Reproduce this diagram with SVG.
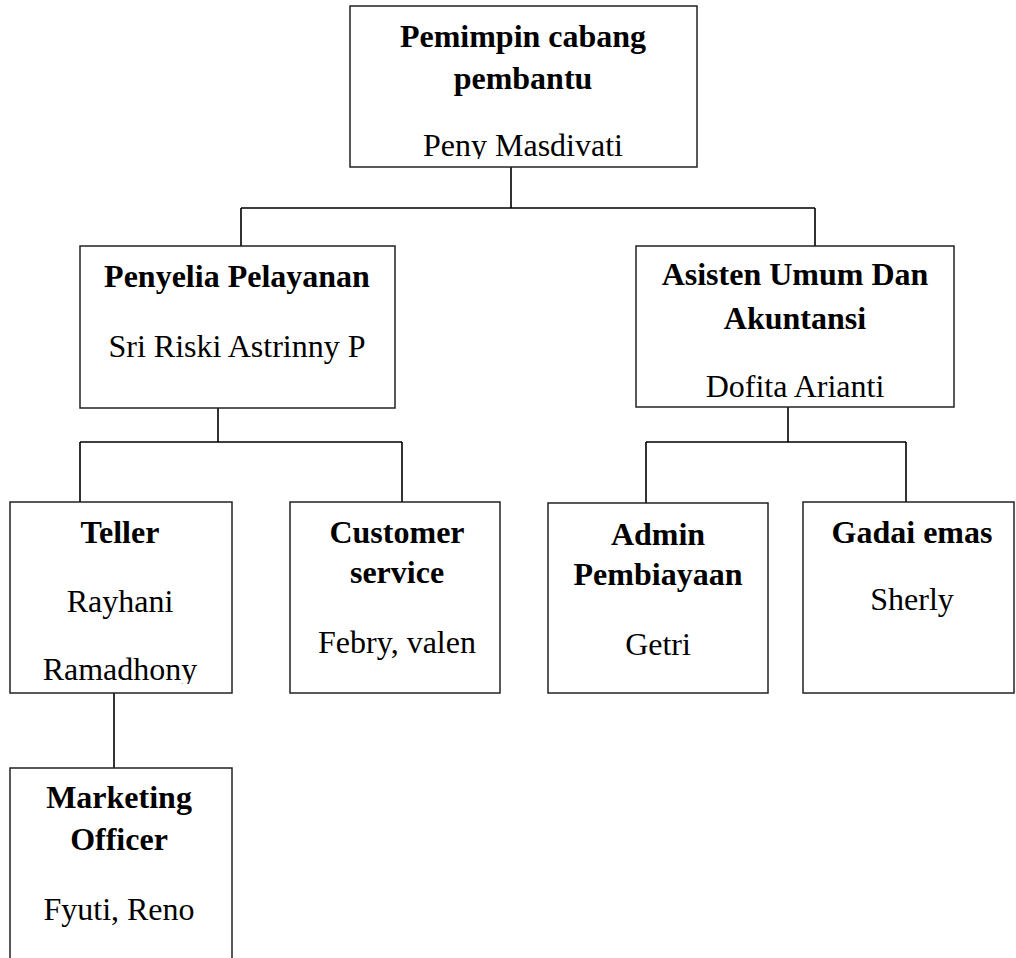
<svg xmlns="http://www.w3.org/2000/svg" width="1016" height="958" viewBox="0 0 1016 958">
<style>
.box{fill:#fff;stroke:#222;stroke-width:1.5}
.con{fill:none;stroke:#000;stroke-width:1.6}
text{font-family:"Liberation Serif","Times New Roman",serif;font-size:32px;fill:#000;text-anchor:middle}
.t{font-weight:bold}
</style>
<defs>
<clipPath id="clipTop"><rect x="350" y="6" width="347" height="153"/></clipPath>
<clipPath id="clipTeller"><rect x="10" y="502" width="222" height="182"/></clipPath>
</defs>
<rect width="1016" height="958" fill="#fff"/>
<g id="connectors">
<path class="con" d="M511 167V208M241 208H815M241 208V246M815 208V246"/>
<path class="con" d="M218 408V442M80 442H402M80 442V502M402 442V502"/>
<path class="con" d="M788 407V442M646 442H906M646 442V503M906 442V502"/>
<path class="con" d="M114 693V768"/>
</g>
<g id="pemimpin">
<rect class="box" x="350" y="6" width="347" height="161"/>
<g clip-path="url(#clipTop)">
<text class="t" x="523" y="47">Pemimpin cabang</text>
<text class="t" x="523" y="89">pembantu</text>
<text x="523" y="156">Peny Masdivati</text>
</g>
</g>
<g id="penyelia">
<rect class="box" x="80" y="246" width="315" height="162"/>
<text class="t" x="237" y="287">Penyelia Pelayanan</text>
<text x="237" y="357">Sri Riski Astrinny P</text>
</g>
<g id="asisten">
<rect class="box" x="636" y="246" width="318" height="161"/>
<text class="t" x="795" y="285">Asisten Umum Dan</text>
<text class="t" x="795" y="329">Akuntansi</text>
<text x="795" y="397">Dofita Arianti</text>
</g>
<g id="teller">
<rect class="box" x="10" y="502" width="222" height="191"/>
<g clip-path="url(#clipTeller)">
<text class="t" x="120" y="543">Teller</text>
<text x="120" y="612">Rayhani</text>
<text x="120" y="680">Ramadhony</text>
</g>
</g>
<g id="customer">
<rect class="box" x="290" y="502" width="210" height="191"/>
<text class="t" x="397" y="543">Customer</text>
<text class="t" x="397" y="583">service</text>
<text x="397" y="653">Febry, valen</text>
</g>
<g id="admin">
<rect class="box" x="548" y="503" width="220" height="190"/>
<text class="t" x="658" y="545">Admin</text>
<text class="t" x="658" y="585">Pembiayaan</text>
<text x="658" y="655">Getri</text>
</g>
<g id="gadai">
<rect class="box" x="803" y="502" width="211" height="191"/>
<text class="t" x="912" y="543">Gadai emas</text>
<text x="912" y="610">Sherly</text>
</g>
<g id="marketing">
<rect class="box" x="10" y="768" width="222" height="210"/>
<text class="t" x="119" y="808">Marketing</text>
<text class="t" x="119" y="850">Officer</text>
<text x="119" y="920">Fyuti, Reno</text>
</g>
</svg>
